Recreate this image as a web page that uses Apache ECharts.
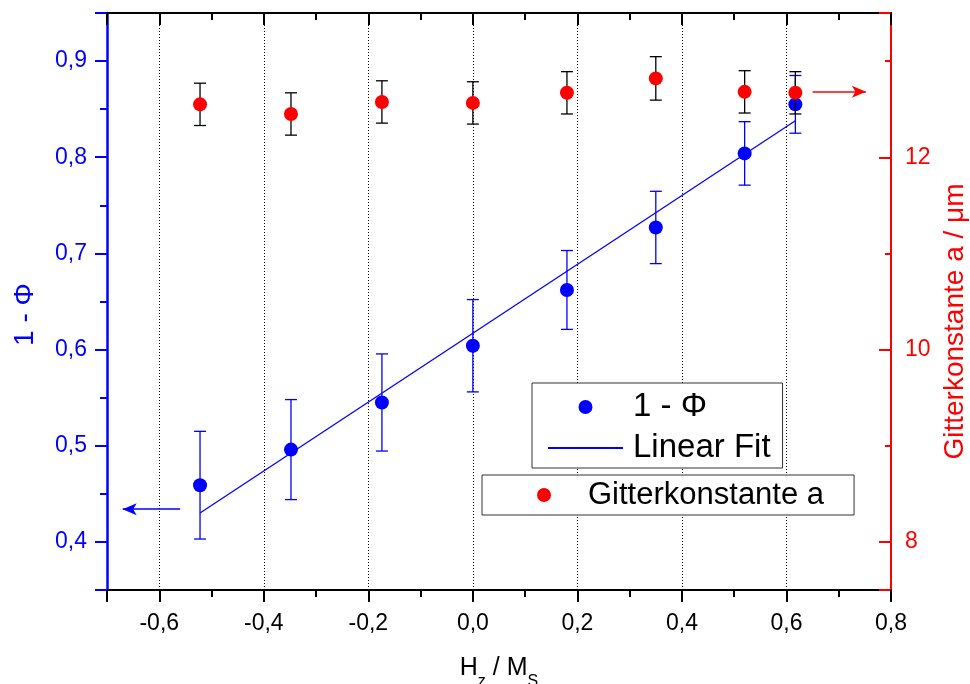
<!DOCTYPE html>
<html>
<head>
<meta charset="utf-8">
<script src="https://cdn.jsdelivr.net/npm/echarts@6/dist/echarts.min.js"></script>
<style>
html,body{margin:0;padding:0;background:#fff;}
#chart{width:970px;height:684px;}
</style>
</head>
<body>
<div id="chart"></div>
<script>
// ---- data ----
const xVals   = [-0.522, -0.348, -0.174, 0.0, 0.18, 0.35, 0.52, 0.617];
const phiVals = [0.459, 0.496, 0.545, 0.604, 0.662, 0.727, 0.804, 0.855];
const phiErr  = [0.056, 0.052, 0.0505, 0.048, 0.041, 0.0376, 0.033, 0.030];
const gkVals  = [12.55, 12.45, 12.575, 12.565, 12.67, 12.82, 12.68, 12.67];
const gkErr   = [0.22, 0.22, 0.22, 0.22, 0.22, 0.226, 0.22, 0.22];
const fitX    = [-0.522, 0.617];
const fitY    = [0.430, 0.838];
const arrowPhiX = [-0.56, -0.67];
const arrowPhiY = 0.434;
const arrowGkX  = [0.65, 0.752];
const arrowGkY  = 12.68;

const FONT = "'Liberation Sans', Arial, sans-serif";
const BLUE = '#0000ff', RED = '#ff0000';

const phiData = xVals.map((x, i) => [x, phiVals[i]]);
const phiErrData = xVals.map((x, i) => [x, phiVals[i] - phiErr[i], phiVals[i] + phiErr[i]]);
const gkData = xVals.map((x, i) => [x, gkVals[i]]);
const gkErrData = xVals.map((x, i) => [x, gkVals[i] - gkErr[i], gkVals[i] + gkErr[i]]);
const fitData = fitX.map((x, i) => [x, fitY[i]]);

function comma(v) { return v.toFixed(1).replace('.', ','); }

function errRender(color) {
  return function (params, api) {
    const x = api.value(0), lo = api.value(1), hi = api.value(2);
    const a = api.coord([x, lo]), b = api.coord([x, hi]);
    const w = 6;
    const st = { stroke: color, lineWidth: 1.3 };
    return {
      type: 'group',
      children: [
        { type: 'line', shape: { x1: a[0], y1: a[1], x2: b[0], y2: b[1] }, style: st },
        { type: 'line', shape: { x1: a[0] - w, y1: a[1], x2: a[0] + w, y2: a[1] }, style: st },
        { type: 'line', shape: { x1: b[0] - w, y1: b[1], x2: b[0] + w, y2: b[1] }, style: st }
      ]
    };
  };
}

const chart = echarts.init(document.getElementById('chart'), null, { renderer: 'canvas' });

const option = {
  animation: false,
  backgroundColor: '#fff',
  textStyle: { fontFamily: FONT },
  grid: { left: 107, right: 79, top: 13, bottom: 94, containLabel: false, outerBoundsMode: 'none' },
  xAxis: [
    {
      type: 'value', position: 'bottom', min: -0.7, max: 0.8, splitNumber: 7,
      name: '{n|H}{s|z}{n| / M}{s|S}',
      nameLocation: 'middle', nameGap: 66,
      nameTextStyle: {
        rich: {
          n: { fontSize: 25, lineHeight: 34, verticalAlign: 'top', color: '#000', fontFamily: FONT },
          s: { fontSize: 16, lineHeight: 34, verticalAlign: 'bottom', color: '#000', fontFamily: FONT }
        }
      },
      axisLine: { show: true, onZero: false, lineStyle: { color: '#000', width: 2 } },
      axisTick: { show: true, inside: false, length: 12, lineStyle: { color: '#000', width: 2 } },
      minorTick: { show: true, splitNumber: 2, length: 7, lineStyle: { color: '#000', width: 2 } },
      axisLabel: { show: true, margin: 22, fontSize: 23, color: '#000', fontFamily: FONT,
        showMinLabel: false, formatter: comma },
      splitLine: { show: true, lineStyle: { color: '#000', width: 1, type: [1, 2] } }
    },
    {
      type: 'value', position: 'top', min: -0.7, max: 0.8, splitNumber: 7,
      axisLine: { show: true, onZero: false, lineStyle: { color: '#000', width: 2 } },
      axisTick: { show: true, inside: true, length: 12, lineStyle: { color: '#000', width: 2 } },
      minorTick: { show: true, splitNumber: 2, length: 7, lineStyle: { color: '#000', width: 2 } },
      axisLabel: { show: false },
      splitLine: { show: false }
    }
  ],
  yAxis: [
    {
      type: 'value', position: 'left', min: 0.35, max: 0.95, splitNumber: 6,
      name: '1 - Φ', nameLocation: 'middle', nameGap: 68, nameRotate: 90,
      nameTextStyle: { fontSize: 28, color: BLUE, fontFamily: FONT, padding: [0, 26, 0, 0] },
      axisLine: { show: true, onZero: false, lineStyle: { color: BLUE, width: 2.5 } },
      axisTick: { show: true, inside: false, length: 12, lineStyle: { color: BLUE, width: 2 } },
      minorTick: { show: true, splitNumber: 2, length: 7, lineStyle: { color: BLUE, width: 2 } },
      axisLabel: { show: true, margin: 20, fontSize: 23, color: BLUE, fontFamily: FONT,
        showMinLabel: false, showMaxLabel: false, formatter: comma },
      splitLine: { show: false }
    },
    {
      type: 'value', position: 'right', min: 7.5, max: 13.5, splitNumber: 3,
      name: 'Gitterkonstante a / μm', nameLocation: 'middle', nameGap: 50, nameRotate: 90,
      nameTextStyle: { fontSize: 28, color: RED, fontFamily: FONT, padding: [0, 40, 0, 0] },
      axisLine: { show: true, onZero: false, lineStyle: { color: RED, width: 2 } },
      axisTick: { show: true, inside: true, length: 12, lineStyle: { color: RED, width: 2 } },
      minorTick: { show: true, splitNumber: 2, length: 6, lineStyle: { color: RED, width: 2 } },
      axisLabel: { show: true, margin: 14, fontSize: 23, color: RED, fontFamily: FONT,
        showMinLabel: false, showMaxLabel: false, formatter: v => String(v) },
      splitLine: { show: false }
    }
  ],
  legend: [
    {
      data: ['1 - Φ', { name: 'Linear Fit', itemStyle: { opacity: 0, color: 'rgba(0,0,0,0)' } }],
      orient: 'vertical', left: 532, top: 383,
      itemWidth: 75, itemHeight: 14, itemGap: 5, padding: [6, 12, 2, 15],
      borderColor: '#333', borderWidth: 1, backgroundColor: '#fff', selectedMode: false,
      textStyle: { fontSize: 33, lineHeight: 36, color: '#000', fontFamily: FONT, padding: [0, 0, 0, 5] }
    },
    {
      data: ['Gitterkonstante a'], orient: 'vertical', left: 482, top: 475,
      itemWidth: 14, itemHeight: 14, padding: [2, 30, 2, 55],
      borderColor: '#333', borderWidth: 1, backgroundColor: '#fff', selectedMode: false,
      textStyle: { fontSize: 31, lineHeight: 36, color: '#000', fontFamily: FONT, padding: [0, 0, 0, 32] }
    }
  ],
  series: [
    {
      name: 'phiErr', type: 'custom', xAxisIndex: 0, yAxisIndex: 0,
      renderItem: errRender(BLUE), data: phiErrData, encode: { x: 0, y: [1, 2] }, silent: true, z: 2
    },
    {
      name: 'Linear Fit', type: 'line', xAxisIndex: 0, yAxisIndex: 0, data: fitData,
      symbol: 'none', lineStyle: { color: BLUE, width: 1.3 }, itemStyle: { color: BLUE }, silent: true, z: 3
    },
    {
      name: '1 - Φ', type: 'scatter', xAxisIndex: 0, yAxisIndex: 0, data: phiData,
      symbol: 'circle', symbolSize: 14, itemStyle: { color: BLUE, opacity: 1 }, silent: true, z: 4,
      markLine: {
        silent: true, symbol: ['none', 'arrow'], symbolSize: [9, 14], animation: false,
        lineStyle: { color: BLUE, width: 1.5, type: 'solid' }, label: { show: false },
        emphasis: { disabled: true },
        data: [[{ coord: [arrowPhiX[0], arrowPhiY] }, { coord: [arrowPhiX[1], arrowPhiY] }]]
      }
    },
    {
      name: 'gkErr', type: 'custom', xAxisIndex: 0, yAxisIndex: 1,
      renderItem: errRender('#000'), data: gkErrData, encode: { x: 0, y: [1, 2] }, silent: true, z: 5
    },
    {
      name: 'Gitterkonstante a', type: 'scatter', xAxisIndex: 0, yAxisIndex: 1, data: gkData,
      symbol: 'circle', symbolSize: 14, itemStyle: { color: RED, opacity: 1 }, silent: true, z: 6,
      markLine: {
        silent: true, symbol: ['none', 'arrow'], symbolSize: [9, 14], animation: false,
        lineStyle: { color: RED, width: 1.5, type: 'solid' }, label: { show: false },
        emphasis: { disabled: true },
        data: [[{ coord: [arrowGkX[0], arrowGkY] }, { coord: [arrowGkX[1], arrowGkY] }]]
      }
    }
  ]
};
chart.setOption(option);
</script>
</body>
</html>
